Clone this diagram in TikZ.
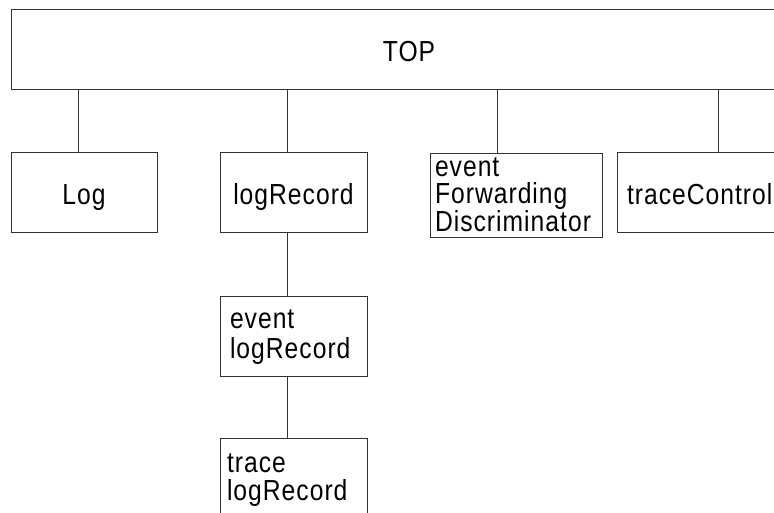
\documentclass[tikz,border=0pt]{standalone}
\usepackage{fontspec}
\setmainfont{Liberation Sans}[FakeStretch=0.85,LetterSpace=3.5]
\usepackage{tikz}

\begin{document}
\begin{tikzpicture}
	[x=1pt,y=-1pt,
	box/.style={rectangle,draw=black!80,line width=0.9pt,inner sep=0pt,minimum height=80pt,text height=26pt,text depth=0pt,font=\fontsize{29}{30}\selectfont},
	lbox/.style={box,align=left,text height=20pt},
	link/.style={draw=black!80,line width=0.9pt}]
	\useasboundingbox (0,0) rectangle (774,513);
	\node[box,minimum width=796pt] (top) at (409,49) {TOP};
	\node[box,minimum width=146pt] (log) at (84,192) {Log};
	\node[box,minimum width=147pt] (rec) at (293.5,192) {logRecord};
	\node[lbox,minimum width=172pt,minimum height=84pt,text width=162pt,text depth=56pt,font=\fontsize{29}{26.5}\selectfont] (efd) at (516,195) {event\\Forwarding\\Discriminator};
	\node[box,minimum width=202pt,text width=182pt,align=left] (tc) at (718,192) {traceControl};
	\node[lbox,minimum width=147pt,text width=127pt,text depth=36pt,font=\fontsize{29}{30}\selectfont] (evrec) at (293.5,336) {event\\logRecord};
	\node[lbox,minimum width=147pt,text width=133pt,text depth=32pt,font=\fontsize{29}{28}\selectfont] (trrec) at (293.5,478) {trace\\logRecord};
	\path[link] ([xshift=-6pt]log.north) edge ([xshift=-6pt]log.north |- top.south);
	\path[link] ([xshift=-6.5pt]rec.north) edge ([xshift=-6.5pt]rec.north |- top.south);
	\path[link] ([xshift=-19pt]efd.north) edge ([xshift=-19pt]efd.north |- top.south);
	\path[link] (tc.north) edge (top.south -| tc.north);
	\path[link] ([xshift=-6.5pt]rec.south) edge ([xshift=-6.5pt]evrec.north);
	\path[link] ([xshift=-6.5pt]evrec.south) edge ([xshift=-6.5pt]trrec.north);
\end{tikzpicture}
\end{document}
